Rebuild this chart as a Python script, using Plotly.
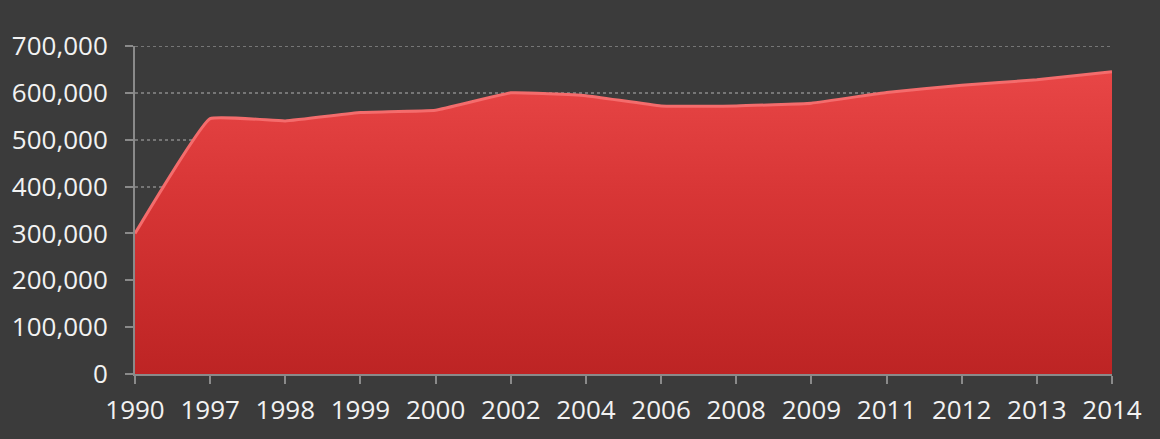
import plotly.graph_objects as go

# Yearly totals shown as a filled area
years = ["1990", "1997", "1998", "1999", "2000", "2002", "2004",
         "2006", "2008", "2009", "2011", "2012", "2013", "2014"]
values = [300000, 545000, 540000, 558000, 563000, 600000, 594000,
          572000, 572000, 578000, 601000, 616000, 628000, 645000]

y_ticks = [0, 100000, 200000, 300000, 400000, 500000, 600000, 700000]
y_tick_text = ["0", "100,000", "200,000", "300,000", "400,000",
               "500,000", "600,000", "700,000"]

bg = "#3b3b3b"
text_col = "#f2f2f2"
axis_col = "#8a8a8a"
grid_col = "#767676"

fig = go.Figure()
fig.add_trace(go.Scatter(
    x=years,
    y=values,
    mode="lines",
    line=dict(color="#f46c6c", width=3, shape="spline", smoothing=0.3),
    fill="tozeroy",
    fillgradient=dict(
        type="vertical",
        colorscale=[[0, "#bd2424"], [0.6, "#d83636"], [1, "#e84646"]],
    ),
    hoverinfo="x+y",
    showlegend=False,
))

# top gridline sits on the plot edge, draw it explicitly
fig.add_shape(
    type="line", xref="paper", yref="y",
    x0=0, x1=1, y0=y_ticks[-1], y1=y_ticks[-1],
    line=dict(color=grid_col, width=2, dash="dot"),
    layer="below",
)

fig.update_layout(
    width=1160,
    height=439,
    margin=dict(l=134, r=48, t=46, b=58),
    paper_bgcolor=bg,
    plot_bgcolor=bg,
    font=dict(family="Open Sans, DejaVu Sans, sans-serif", size=26, color=text_col),
    xaxis=dict(
        type="category",
        range=[0, len(years) - 1],
        showgrid=False,
        showline=True,
        linecolor=axis_col,
        linewidth=2,
        ticks="outside",
        ticklen=8,
        tickwidth=2,
        tickcolor=axis_col,
        ticklabelstandoff=4,
        zeroline=False,
    ),
    yaxis=dict(
        range=[0, 700000],
        tickvals=y_ticks,
        ticktext=y_tick_text,
        showgrid=True,
        gridcolor=grid_col,
        griddash="dot",
        gridwidth=2,
        showline=True,
        linecolor=axis_col,
        linewidth=2,
        ticks="outside",
        ticklen=8,
        tickwidth=2,
        tickcolor=axis_col,
        ticklabelstandoff=12,
        zeroline=False,
    ),
)

fig.write_html("out.html")
